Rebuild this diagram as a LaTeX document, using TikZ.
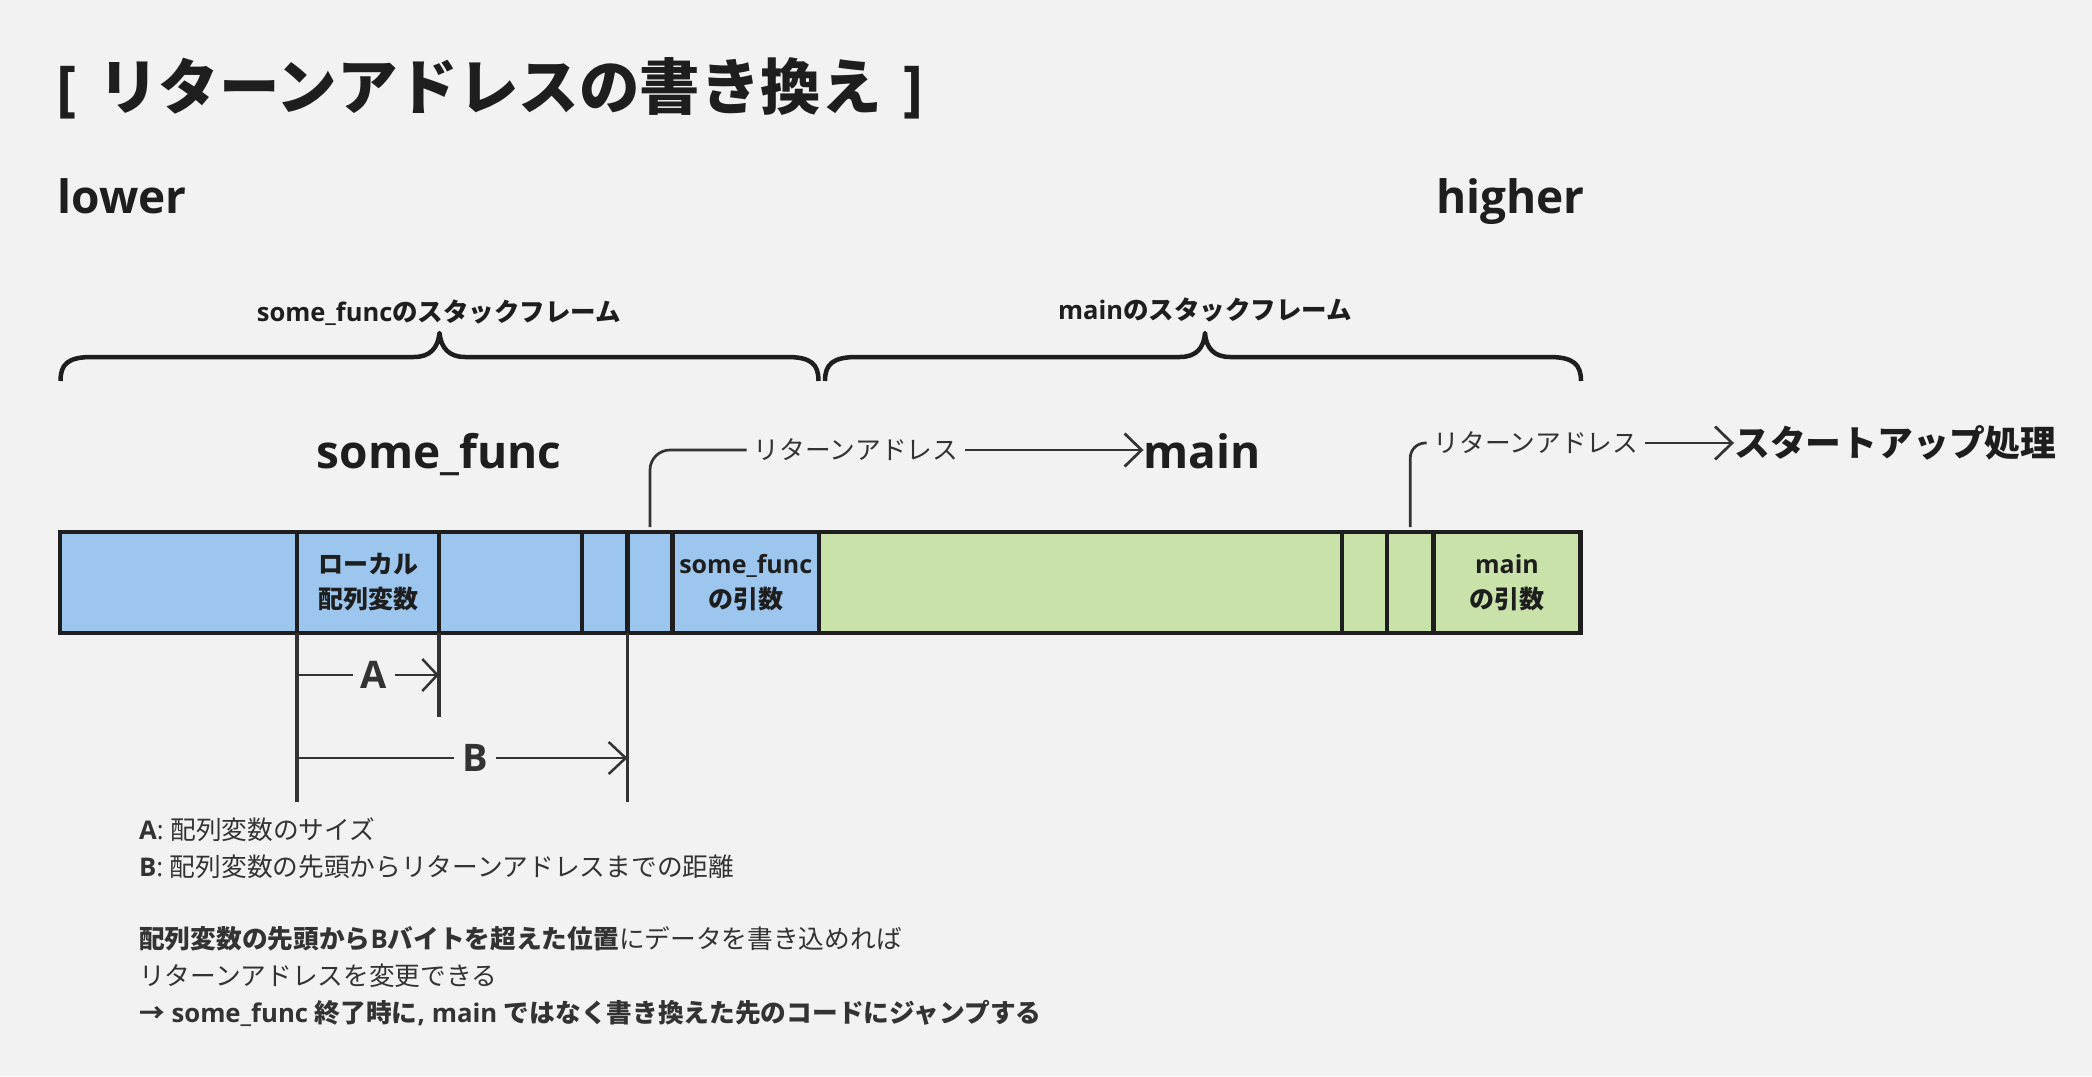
\documentclass[tikz,border=0pt]{standalone}
\usepackage{fontspec}
\setmainfont{Open Sans}
\newfontfamily\ja{Noto Sans CJK JP}
\newcommand{\J}[1]{{\ja #1}}
\usetikzlibrary{arrows.meta}
\definecolor{bg}{HTML}{F2F2F2}
\definecolor{ink}{HTML}{1E1E1E}
\definecolor{soft}{HTML}{333333}
\definecolor{cblue}{HTML}{9DC6EE}
\definecolor{cgreen}{HTML}{C9E2A9}
\begin{document}
\begin{tikzpicture}[x=1pt,y=-1pt,
  cell/.style={draw=ink, line width=4.5pt, inner sep=0pt, outer sep=0pt,
    minimum height=101pt, anchor=north west, align=center, text=ink,
    font=\fontsize{25}{35}\selectfont\bfseries},
  bluecell/.style={cell, fill=cblue},
  greencell/.style={cell, fill=cgreen},
  brace/.style={draw=ink, line width=4.5pt, line join=round},
  lead/.style={draw=soft, line width=2.7pt},
  tipv/.style={-{Straight Barb[length=17pt,width=33pt]}},
  dimv/.style={draw=soft, line width=3.5pt},
  dimh/.style={draw=soft, line width=2.5pt},
  biglbl/.style={inner sep=0pt, text=ink, font=\fontsize{46}{54}\selectfont\bfseries},
  framelbl/.style={inner sep=0pt, text=ink, font=\fontsize{25.5}{30}\selectfont\bfseries},
  ralbl/.style={inner ysep=0pt, inner xsep=7pt, text=soft, font=\fontsize{25.7}{30}\selectfont},
  dimlbl/.style={inner ysep=0pt, inner xsep=8pt, text=soft, font=\fontsize{38}{44}\selectfont\bfseries},
  note/.style={inner sep=0pt, anchor=west, text=soft, font=\fontsize{25.7}{30}\selectfont}
]
\useasboundingbox (0,0) rectangle (2092,1076);
\fill[bg] (0,0) rectangle (2092,1076);

% title and ends
\node[inner sep=0pt, anchor=base west, text=ink, font=\fontsize{60.5}{70}\selectfont\bfseries]
  (title) at (56,109) {[\hspace{22pt}\J{リターンアドレスの書き換え}\hspace{22pt}]};
\node[biglbl, anchor=base west] (lower) at (57.5,213) {lower};
\node[biglbl, anchor=base east] (higher) at (1585,213) {higher};

% braces
\draw[brace] (60.5,381) .. controls (60.5,364) and (68,357) .. (92,357) -- (414,357)
  .. controls (430,357) and (438,348) .. (439.5,333)
  .. controls (441,348) and (449,357) .. (465,357) -- (787,357)
  .. controls (811,357) and (818.5,364) .. (818.5,381);
\draw[brace] (825,381) .. controls (825,364) and (833,357) .. (857,357) -- (1180,357)
  .. controls (1196,357) and (1204,348) .. (1205,333)
  .. controls (1206,348) and (1214,357) .. (1230,357) -- (1549,357)
  .. controls (1573,357) and (1581,364) .. (1581,381);
\node[framelbl] (sfframe) at (439,313) {some\_func\J{のスタックフレーム}};
\node[framelbl] (mainframe) at (1205,310) {main\J{のスタックフレーム}};

% function names
\node[biglbl, anchor=base] (sfname) at (439,468) {some\_func};
\node[biglbl, anchor=base west] (mainL) at (1143.5,468) {main};
\node[inner sep=0pt, anchor=west, text=ink, font=\fontsize{35.8}{40}\selectfont\bfseries]
  (startup) at (1734,443) {\J{スタートアップ処理}};

% stack cells
\node[bluecell, minimum width=237pt] (c1) at (60,532) {};
\node[bluecell, minimum width=142pt] (c2) at (297,532) {\J{ローカル}\\\J{配列変数}};
\node[bluecell, minimum width=143pt] (c3) at (439,532) {};
\node[bluecell, minimum width=45.5pt] (c4) at (582,532) {};
\node[bluecell, minimum width=45pt] (c5) at (627.5,532) {};
\node[bluecell, minimum width=146.5pt] (c6) at (672.5,532) {some\_func\\\J{の引数}};
\node[greencell, minimum width=523pt] (c7) at (819,532) {};
\node[greencell, minimum width=45pt] (c8) at (1342,532) {};
\node[greencell, minimum width=46.5pt] (c9) at (1387,532) {};
\node[greencell, minimum width=147pt] (c10) at (1433.5,532) {main\\\J{の引数}};

% return address leaders
\node[ralbl] (ra1) at (856,450) {\J{リターンアドレス}};
\node[ralbl] (ra2) at (1536,443) {\J{リターンアドレス}};
\draw[lead, rounded corners=20pt] ([yshift=5pt]c5.north) |- (ra1.west);
\draw[lead, tipv] (ra1.east) -- (ra1.east -| mainL.west);
\draw[lead, rounded corners=15pt] ([yshift=5pt]c9.north) |- (ra2.west);
\draw[lead, tipv] (ra2.east) -- (ra2.east -| startup.west);

% dimensions
\draw[dimv] (c2.south west) -- ++(0,169);
\draw[dimv] (c2.south east) -- ++(0,84);
\draw[dimv] (c5.south west) -- ++(0,169);
\node[dimlbl] (Alab) at (374,675) {A};
\node[dimlbl] (Blab) at (475,758) {B};
\draw[dimh] (c2.south west |- Alab) -- (Alab.west);
\draw[dimh, -{Straight Barb[length=15pt,width=32pt]}] (Alab.east) -- (c2.south east |- Alab);
\draw[dimh] (c2.south west |- Blab) -- (Blab.west);
\draw[dimh, -{Straight Barb[length=17pt,width=32pt]}] (Blab.east) -- (c5.south west |- Blab);

% notes
\node[note] (n1) at (139,830) {\textbf{A}: \J{配列変数のサイズ}};
\node[note] (n2) at (139,867) {\textbf{B}: \J{配列変数の先頭からリターンアドレスまでの距離}};
\node[note] (n3) at (139,939) {\J{\textbf{配列変数の先頭から}}\textbf{B}\J{\textbf{バイトを超えた位置}にデータを書き込めれば}};
\node[note] (n4) at (139,976) {\J{リターンアドレスを変更できる}};
\node[note] (n5) at (139,1013) {\textbf{\J{→} some\_func \J{終了時に}, main \J{ではなく書き換えた先のコードにジャンプする}}};
\end{tikzpicture}
\end{document}
